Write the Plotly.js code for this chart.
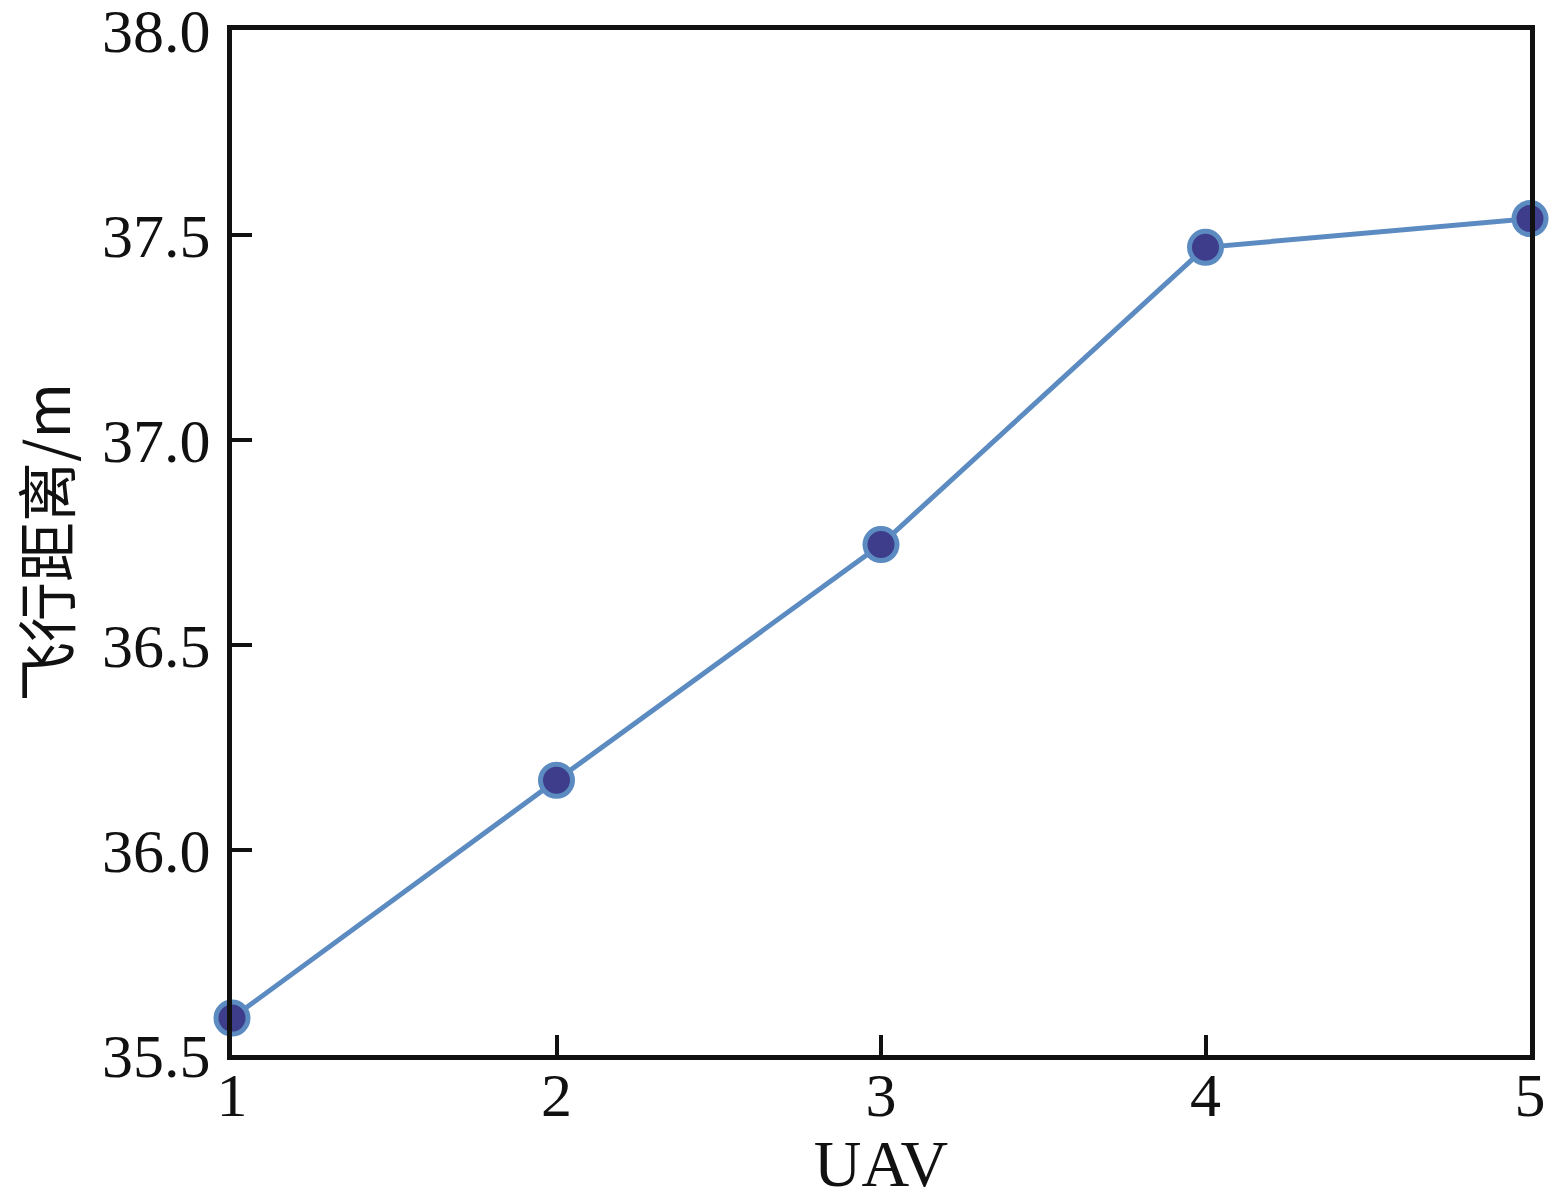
<!DOCTYPE html>
<html>
<head>
<meta charset="utf-8">
<script src="https://cdn.plot.ly/plotly-3.0.1.min.js"></script>
<style>html,body{margin:0;padding:0;background:#fff;}#chart{width:1564px;height:1200px;}</style>
</head>
<body>
<div id="chart"></div>
<script>
const uav = [1, 2, 3, 4, 5];
const distance = [35.59, 36.17, 36.745, 37.47, 37.54];
const yTicks = [35.5, 36.0, 36.5, 37.0, 37.5, 38.0];
const yTickLabels = ["35.5", "36.0", "36.5", "37.0", "37.5", "38.0"];
const xTicks = [1, 2, 3, 4, 5];

const serif = "Times New Roman, Liberation Serif, Times, serif";

Plotly.newPlot("chart", [{
  x: uav,
  y: distance,
  type: "scatter",
  mode: "lines+markers",
  line: {color: "#5b8bc1", width: 5},
  marker: {size: 32, color: "#3d3d8c", line: {color: "#5b8bc1", width: 5}},
  cliponaxis: false,
  hoverinfo: "skip"
}], {
  width: 1564,
  height: 1200,
  margin: {l: 232, r: 34, t: 30, b: 145},
  paper_bgcolor: "#fff",
  plot_bgcolor: "#fff",
  showlegend: false,
  xaxis: {
    range: [1, 5],
    tickvals: xTicks,
    ticktext: xTicks.map(String),
    ticks: "inside",
    ticklen: 20,
    tickwidth: 4,
    tickcolor: "#111",
    showline: true,
    linewidth: 5,
    linecolor: "#111",
    mirror: true,
    showgrid: false,
    zeroline: false,
    ticklabeloverflow: "allow",
    tickfont: {family: serif, size: 62, color: "#111"},
    ticklabelstandoff: -18,
    title: {text: "UAV", font: {family: serif, size: 66, color: "#111"}, standoff: 0}
  },
  yaxis: {
    range: [35.5, 38.0],
    tickvals: yTicks,
    ticktext: yTickLabels,
    ticks: "inside",
    ticklen: 20,
    tickwidth: 4,
    tickcolor: "#111",
    showline: true,
    linewidth: 5,
    linecolor: "#111",
    mirror: true,
    showgrid: false,
    zeroline: false,
    ticklabeloverflow: "allow",
    tickfont: {family: serif, size: 62, color: "#111"},
    ticklabelstandoff: 4,
    title: {text: "飞行距离/m", font: {family: "Noto Sans CJK SC", size: 60, color: "#111"}, standoff: 16}
  }
}, {displayModeBar: false, staticPlot: true});
</script>
</body>
</html>
